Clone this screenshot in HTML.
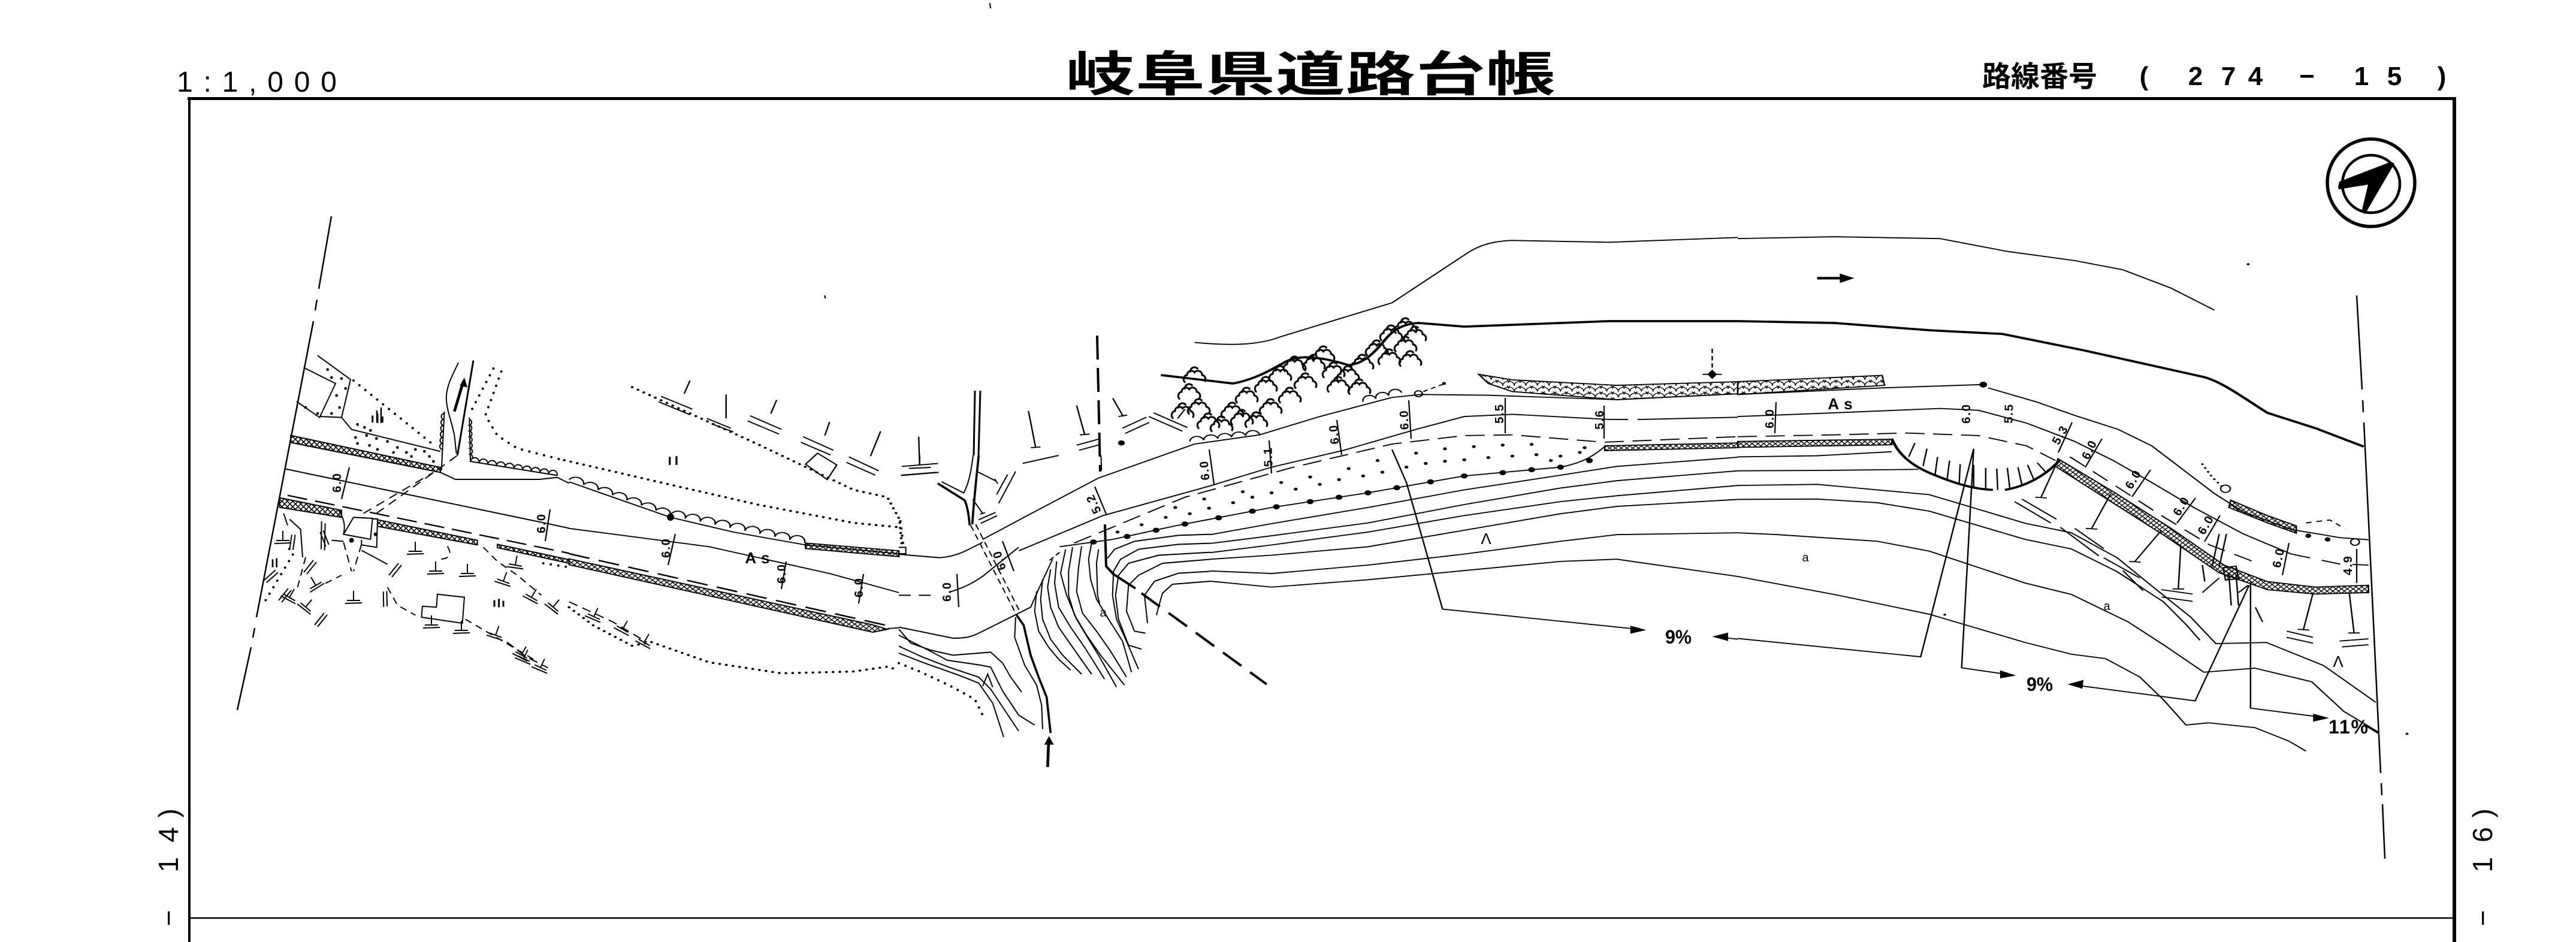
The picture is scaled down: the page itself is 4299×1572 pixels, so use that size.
<!DOCTYPE html>
<html><head><meta charset="utf-8"><style>
html,body{margin:0;padding:0;background:#fff;}
svg{display:block;}
.n{font-family:"Liberation Sans",sans-serif;font-weight:bold;font-size:20px;fill:#000;stroke:none;}
.h{font-family:"Liberation Sans","Noto Sans CJK JP",sans-serif;fill:#000;stroke:none;}
</style></head><body>
<svg xmlns="http://www.w3.org/2000/svg" width="4299" height="1572" viewBox="0 0 4299 1572">
<defs>
<pattern id="xh3" width="12" height="12" patternUnits="userSpaceOnUse"><path d="M0,0 L12,12 M12,0 L0,12" stroke="#000" stroke-width="2" fill="none"/></pattern>
<pattern id="xh8" width="27" height="27" patternUnits="userSpaceOnUse"><path d="M0,0 L27,27 M27,0 L0,27" stroke="#000" stroke-width="5" fill="none"/></pattern>
<pattern id="sc3" width="24" height="16" patternUnits="userSpaceOnUse"><path d="M0,16 A12,12 0 0 1 24,16 M-12,8 A12,12 0 0 1 12,8 M12,8 A12,12 0 0 1 36,8" stroke="#000" stroke-width="2" fill="none"/></pattern>
<g id="tt"><path d="M0,-16 L0,0 M-11,0 L11,0 M-14,5 L14,4"/></g>
<g id="dd"><path d="M-8,10 L8,-10 M-3,13 L13,-7"/></g>
<g id="bush"><path d="M-12,6 a5,5 0 0 1 2,-9 a5,5 0 0 1 9,-3 a5,5 0 0 1 9,3 a5,5 0 0 1 3,8 M-6,-6 a5,5 0 0 1 9,-4"/></g>
</defs>
<rect width="4299" height="1572" fill="#fff"/>

<!-- HEADER -->
<text class="h" x="295" y="153" font-size="48" textLength="267" lengthAdjust="spacing">1:1,000</text>
<text class="h" transform="translate(1778,152) scale(1.45,1)" font-size="80" font-weight="bold" textLength="564" lengthAdjust="spacing">岐阜県道路台帳</text>
<text class="h" x="3308" y="144" font-size="48" font-weight="bold" textLength="192" lengthAdjust="spacing">路線番号</text>
<g class="h" font-size="44" font-weight="bold" text-anchor="middle">
<text x="3578" y="142">(</text><text x="3664" y="142">2</text><text x="3719" y="142">7</text><text x="3764" y="142">4</text>
<text x="3850" y="142">−</text><text x="3941" y="142">1</text><text x="3996" y="142">5</text><text x="4075" y="142">)</text>
</g>
<path d="M1652,5 L1653,14" stroke="#000" stroke-width="2"/>

<!-- side labels -->
<g class="h" font-size="46" text-anchor="middle">
<text transform="translate(297,1532) rotate(-90)">−</text>
<text transform="translate(297,1443) rotate(-90)">1</text>
<text transform="translate(297,1393) rotate(-90)">4</text>
<text transform="translate(297,1357) rotate(-90)">)</text>
<text transform="translate(4159,1532) rotate(-90)">−</text>
<text transform="translate(4159,1443) rotate(-90)">1</text>
<text transform="translate(4159,1393) rotate(-90)">6</text>
<text transform="translate(4159,1357) rotate(-90)">)</text>
</g>

<!-- FRAME -->
<g stroke="#000" fill="none">
<path d="M313,164.5 L4099,164.5" stroke-width="5"/>
<path d="M316,162 L316,1572" stroke-width="4"/>
<path d="M4096,162 L4096,1572" stroke-width="6"/>
<path d="M316,1532 L4096,1532" stroke-width="2.5"/>
</g>

<!-- COMPASS -->
<g stroke="#000" fill="none">
<circle cx="3957" cy="305" r="73" stroke-width="5.5"/>
<circle cx="3957" cy="307" r="48" stroke-width="4.5"/>
</g>
<polygon points="3902,312 3904,303 3990,270 3996,273 3947,357 3941,354 3952,308 3903,316" fill="#000"/>

<!-- boundary dash-dot lines -->
<g stroke="#000" stroke-width="2.5" fill="none">
<path d="M553,361 L532,482 M529,500 L526,518 M523,536 L428,1030 M425,1048 L422,1064 M419,1080 L396,1185"/>
<path d="M3933,493 L3942,650 M3943,668 L3944,688 M3945,705 L3973,1290 M3974,1307 L3975,1327 M3976,1342 L3980,1433"/>
</g>

<!-- ========== Z8 group (left detail) ========== -->
<g transform="translate(430,580) scale(0.33333)" fill="none" stroke="#000" stroke-width="6">
<path d="M300,40 L465,160 L420,350 L470,410 L915,520"/>
<path d="M230,100 L390,180 L310,350 L195,270"/>
<path d="M310,345 L420,350"/>
<g fill="#000" stroke="none">
<circle cx="350" cy="110" r="7"/><circle cx="395" cy="240" r="7"/><circle cx="370" cy="150" r="7"/><circle cx="420" cy="155" r="7"/><circle cx="440" cy="205" r="7"/><circle cx="410" cy="300" r="7"/><circle cx="370" cy="330" r="7"/><circle cx="500" cy="385" r="7"/><circle cx="535" cy="400" r="7"/><circle cx="565" cy="415" r="7"/><circle cx="490" cy="450" r="7"/><circle cx="545" cy="440" r="7"/><circle cx="595" cy="455" r="7"/><circle cx="500" cy="480" r="7"/><circle cx="650" cy="470" r="7"/><circle cx="700" cy="500" r="7"/><circle cx="560" cy="490" r="7"/><circle cx="745" cy="525" r="7"/><circle cx="790" cy="510" r="7"/><circle cx="835" cy="520" r="7"/><circle cx="860" cy="545" r="7"/><circle cx="880" cy="570" r="7"/><circle cx="770" cy="545" r="7"/><circle cx="680" cy="525" r="7"/><circle cx="600" cy="510" r="7"/><circle cx="300" cy="330" r="7"/><circle cx="240" cy="300" r="7"/>
</g>
<path d="M480,165 L890,495" stroke-width="12" stroke-dasharray="0,38" stroke-linecap="round"/>
<path d="M575,340 L575,375 M600,330 L600,378 M625,345 L625,375" stroke-width="9"/>
<path d="M1005,75 C980,130 950,180 945,240 C940,300 975,380 985,440 L995,530"/>
<path d="M1080,65 L1000,540" stroke-width="9"/>
<path d="M935,320 L920,615"/>
<path d="M935,330 a15,15 0 0 0 -1.5,30 a15,15 0 0 0 -1.5,30 a15,15 0 0 0 -1.5,30 a15,15 0 0 0 -1.5,30 a15,15 0 0 0 -1.5,30 a15,15 0 0 0 -1.5,30"/>
<path d="M1060,350 L1065,570 L1500,640"/>
<path d="M1060,360 a15,15 0 0 1 0.7,29 a15,15 0 0 1 0.7,29 a15,15 0 0 1 0.7,29 a15,15 0 0 1 0.7,29 a15,15 0 0 1 0.7,29 a15,15 0 0 1 0.7,29 a15,15 0 0 1 0.7,29"/>
<path d="M1065,570 a22,22 0 0 1 43.5,7 a22,22 0 0 1 43.5,7 a22,22 0 0 1 43.5,7 a22,22 0 0 1 43.5,7 a22,22 0 0 1 43.5,7 a22,22 0 0 1 43.5,7 a22,22 0 0 1 43.5,7 a22,22 0 0 1 43.5,7 a22,22 0 0 1 43.5,7 a22,22 0 0 1 43.5,7"/>
<path d="M985,320 L1028,175" stroke-width="14"/>
<polygon points="1035,150 1050,200 1012,190" fill="#000" stroke="none"/>
<path d="M1180,105 L1070,315 M1220,120 L1140,340 L1200,440 L1300,505 L1535,565" stroke-width="12" stroke-dasharray="0,38" stroke-linecap="round"/>
<polygon points="165,440 915,600 915,625 165,475" fill="url(#xh8)"/>
<path d="M165,475 L915,625 L990,660 L1410,660 L1500,650 L1560,680"/>
<path d="M140,608 L1445,880 L1560,905"/>
<path d="M150,740 L1560,1030" stroke-width="7" stroke-dasharray="100,40"/>
<polygon points="110,752 420,815 420,850 110,800" fill="url(#xh8)"/>
<polygon points="600,862 1100,965 1100,988 600,895" fill="url(#xh8)"/>
<polygon points="1200,985 1560,1062 1560,1080 1200,1002" fill="url(#xh8)"/>
<path d="M405,815 Q445,870 430,935"/>
<path d="M430,935 L480,850 L575,855 L565,960 Z"/>
<path d="M578,858 L600,858 L596,1000 L520,988 L520,962"/>
<circle cx="470" cy="965" r="12" fill="#000" stroke="none"/>
<circle cx="590" cy="935" r="9" fill="#000" stroke="none"/>
<path d="M530,830 L880,625 M595,830 L1000,540" stroke-dasharray="45,30"/>
<path d="M430,975 L470,1120 M520,985 L480,1120" stroke-dasharray="40,25"/>
<path d="M370,965 L430,970 M520,1015 L650,1085"/>
<path d="M650,1200 L700,1290 L790,1340 M1040,1360 L1380,1560 M240,1050 L200,1200 M950,995 Q990,1060 900,1060 M340,1180 L420,1140 M1130,1000 L1200,1070 L1300,1140 L1420,1240" stroke-dasharray="35,25"/>
<path d="M40,1265 L180,1030 L140,990 M1430,1080 L1560,1100" stroke-width="12" stroke-dasharray="0,38" stroke-linecap="round"/>
<path d="M820,1350 L825,1295 L895,1300 L900,1235 L1035,1250 L1025,1380 Z"/>
<path d="M1185,1265 L1185,1298 M1208,1258 L1208,1300 M1230,1268 L1230,1298" stroke-width="9"/>
<path d="M75,1060 L75,1100 M95,1055 L95,1100" stroke-width="8"/>
<path d="M160,860 L215,910 L225,1050 M130,830 L150,890 M320,870 L318,1010 M338,880 L335,1015"/>
</g>

<!-- ========== Z3 group ========== -->
<g transform="translate(380,340) scale(0.8036,0.6122)" fill="none" stroke="#000" stroke-width="3">
<path d="M960,482 L948,518 M900,525 L965,560 M895,540 L960,575"/>
<path d="M1035,520 L1035,585 M995,585 L1045,612 M1005,600 L1050,622"/>
<path d="M1140,535 L1128,572 M1085,578 L1150,615 M1080,592 L1145,628"/>
<path d="M1250,595 L1240,632 M1195,635 L1258,672 M1190,650 L1252,685"/>
<path d="M1356,620 L1335,688 M1290,690 L1352,728 M1285,705 L1345,740"/>
<path d="M1435,635 L1437,712 M1400,716 L1475,708 M1398,740 L1472,732"/>
<path d="M1200,710 L1225,680 L1265,712 L1245,752 Z"/>
<path d="M918,690 L918,712 M932,688 L932,712" stroke-width="4"/>
<path d="M840,500 L1100,655 L1300,780 L1370,800 L1395,860 L1400,930" stroke-width="6" stroke-dasharray="0,14" stroke-linecap="round"/>
<path d="M699,699 L900,760 L1100,820 L1300,870 L1395,882" stroke-width="6" stroke-dasharray="0,14" stroke-linecap="round"/>
<path d="M709,758 L800,800 L920,855 L1050,895 L1200,930 L1394,954"/>
<path d="M709,752 a17,17 0 0 1 30,14 a17,17 0 0 1 30,14 a17,17 0 0 1 30,14 a17,17 0 0 1 30,14 a17,17 0 0 1 30,14 a17,17 0 0 1 30,14 a17,17 0 0 1 30,14 a16,16 0 0 1 31,8.3 a16,16 0 0 1 31,8.3 a16,16 0 0 1 31,8.3 a16,16 0 0 1 31,8.3 a16,16 0 0 1 31,8.3 a16,16 0 0 1 31,8.3 a16,16 0 0 1 31,8.3 a16,16 0 0 1 31,8.3 a16,16 0 0 1 31,8.3"/>
<polygon points="1200,925 1394,946 1394,962 1200,940" fill="url(#xh3)"/>
<path d="M709,885 L1000,935 L1250,1008 L1394,1060"/>
<path d="M709,954 L1370,1150" stroke-width="4" stroke-dasharray="44,20"/>
<polygon points="709,968 1340,1148 1370,1160 1340,1168 709,984" fill="url(#xh3)"/>
<path d="M1370,1158 L1394,1156"/>
<path d="M709,1100 L760,1150 L840,1205 L880,1195 L1000,1250 L1150,1280 L1300,1275 L1370,1262 L1394,1272" stroke-width="6" stroke-dasharray="0,14" stroke-linecap="round"/>
<path d="M709,1085 L800,1140 L870,1195 M580,1195 L620,1235 L665,1265" stroke-dasharray="20,12"/>
<path d="M1240,250 L1241,258"/>
</g>
<path d="M1627,652 L1625,760 M1636,652 L1633,760" stroke="#000" stroke-width="3" fill="none"/>

<!-- ========== Z9 group (junction) ========== -->
<g transform="translate(1500,760) scale(0.33333)" fill="none" stroke="#000" stroke-width="6">
<path d="M105,0 L105,30 M50,65 L160,60 M15,100 L200,85"/>
<path d="M195,140 L330,225 C345,260 350,300 355,350" stroke-width="11"/>
<path d="M215,132 L325,188 C345,150 360,100 372,0"/>
<path d="M400,0 C390,100 375,230 368,345" stroke-width="11"/>
<path d="M390,80 L490,130 M480,118 L496,142 M370,220 L420,290 M408,293 L432,287 M400,322 L485,285 M410,340 L492,302 M490,195 L545,95 M500,240 L585,80 M620,40 L800,0 M1012,0 L1015,75"/>
<path d="M8,330 L22,445" stroke-width="12" stroke-dasharray="0,36" stroke-linecap="round"/>
<path d="M0,460 L35,460 L35,492 L0,492"/>
<path d="M0,495 L200,512 C250,510 290,498 330,480 L420,435"/>
<path d="M0,700 L200,700" stroke-dasharray="60,40"/>
<path d="M250,685 C320,665 370,640 420,605 L600,460"/>
<path d="M360,350 L590,800 M385,345 L610,790" stroke-dasharray="30,20"/>
<path d="M0,860 L100,880 L270,915 C330,915 360,910 400,890 L660,760 L700,670 L760,540 L770,520"/>
<path d="M755,525 L805,485" stroke-dasharray="25,15"/>
<path d="M590,800 L625,850 L660,1000 L700,1110 L740,1210 L760,1390" stroke-width="11"/>
<path d="M585,810 L580,910 L630,1050 L690,1150 L715,1250 L720,1370"/>
<path d="M745,1560 L750,1440" stroke-width="14"/>
<polygon points="752,1405 728,1448 776,1448" fill="#000" stroke="none"/>
<path d="M0,870 L60,940 L160,975 L270,1000 L460,985 L520,1040 L560,1110 L615,1185"/>
<path d="M0,900 C100,950 200,1000 240,1025 L410,1050 L460,1060 L520,1180 L600,1300 L680,1350"/>
<path d="M0,955 L120,1010 L250,1060 L400,1110 L460,1170 L540,1290 L600,1380"/>
<path d="M0,990 L130,1040 L300,1100 L400,1140 L470,1240 L525,1410"/>
<path d="M0,1040 L100,1080 L250,1150 L380,1220 L420,1300" stroke-width="12" stroke-dasharray="0,36" stroke-linecap="round"/>
<path d="M420,1155 L445,1095 L470,1160"/>
<path d="M690,680 L680,780 L700,880 L750,960 L800,1020 L860,1075"/>
<path d="M720,620 L710,720 L720,820 L760,920 L820,1000 L915,1095"/>
<path d="M760,570 L745,660 L760,760 L800,860 L870,960 L965,1095"/>
<path d="M790,530 L780,640 L800,760 L860,860 L930,960 L1030,1120"/>
<path d="M835,470 L810,590 L840,700 L890,820 L950,920 L1000,1000 L1090,1160"/>
<path d="M870,460 L850,580 L850,700 L880,800 L940,900 L1010,1000 L1130,1150"/>
<path d="M915,455 L900,560 L890,680 L920,790 L990,880 L1060,980 L1140,1110"/>
<path d="M965,440 L950,520 L960,620 L990,720 L1050,820 L1120,930 L1165,1085"/>
<path d="M1000,470 L990,540 L995,700 L1005,740"/>
<path d="M1560,395 L1400,400 L1180,430 L1080,470 L1045,515"/>
<path d="M1560,440 L1400,445 L1200,470 L1110,520 L1075,580 L1070,700 L1090,820 L1140,930 L1200,1070"/>
<path d="M1560,485 L1300,500 L1150,540 L1100,600 L1085,700 L1100,820 L1150,950 L1215,970"/>
<path d="M1560,520 L1320,540 L1200,600 L1150,650 L1140,780 L1180,880 L1235,890"/>
<path d="M1560,580 L1400,590 L1280,630 L1230,700 L1245,840"/>
<path d="M1560,630 L1370,645 L1320,690 L1300,760 L1290,800"/>
</g>

<!-- heavy dashed line at junction -->
<g stroke="#000" stroke-width="4" fill="none">
<path d="M1831,560 L1836,787" stroke-dasharray="40,14"/>
<path d="M1844,875 L1846,945 L1858,958 L1895,982"/>
<path d="M1905,990 L2114,1142" stroke-dasharray="38,18"/>
</g>

<!-- ========== Z4 group ========== -->
<g transform="translate(1640,340) scale(0.8036,0.6122)" fill="none" stroke="#000" stroke-width="3">
<path d="M440,378 C520,388 575,385 620,362 L700,330 L850,270 L1000,140 C1030,112 1060,102 1100,100 L1300,105 L1568,92"/>
<path d="M370,467 L520,490 C560,480 590,460 630,430 C660,410 705,418 760,440 C790,436 810,410 830,380 C850,345 870,328 905,325 L1000,335 L1300,320 L1568,320" stroke-width="6"/>
<path d="M405,585 L420,560"/>
<path d="M0,915 L100,845 L240,748 L440,655 L575,630 L700,580 L850,528 L910,520 L1050,522 L1317,534 L1568,518"/>
<path d="M430,648 a15,15 0 0 1 29,-4 a15,15 0 0 1 29,-4 a15,15 0 0 1 29,-4 a15,15 0 0 1 29,-4 a15,15 0 0 1 29,-4"/>
<path d="M790,540 a14,14 0 0 1 26.7,-8.3 a14,14 0 0 1 26.7,-8.3 a14,14 0 0 1 26.7,-8.3"/>
<circle cx="905" cy="518" r="8"/>
<path d="M915,512 L960,490" stroke-dasharray="10,8"/>
<circle cx="958" cy="490" r="4" fill="#000" stroke="none"/>
<path d="M75,946 L250,850 L470,770 L600,718 L750,672 L900,615 L1000,580 L1100,574 L1300,588"/>
<path d="M1300,588 L1368,588" stroke-dasharray="40,20"/>
<path d="M1368,588 L1568,582"/>
<path d="M190,925 L420,800 L640,720 L850,655 L1000,632 L1100,630 L1290,650 L1568,635" stroke-dasharray="40,18"/>
<path d="M160,935 L270,915 L400,878 L600,828 L800,788 L1000,742 L1200,718 C1250,705 1270,685 1292,662"/>
<g fill="#000" stroke="none">
<circle cx="230" cy="922" r="7"/><circle cx="300" cy="907" r="7"/><circle cx="360" cy="890" r="7"/><circle cx="420" cy="873" r="7"/><circle cx="490" cy="856" r="7"/><circle cx="560" cy="838" r="7"/><circle cx="610" cy="826" r="7"/><circle cx="680" cy="812" r="7"/><circle cx="740" cy="800" r="7"/><circle cx="800" cy="788" r="7"/><circle cx="860" cy="774" r="7"/><circle cx="930" cy="758" r="7"/><circle cx="1000" cy="742" r="7"/><circle cx="1080" cy="733" r="7"/><circle cx="1140" cy="725" r="7"/><circle cx="1200" cy="718" r="7"/><circle cx="1260" cy="700" r="7"/>
<circle cx="280" cy="895" r="4"/><circle cx="330" cy="875" r="4"/><circle cx="380" cy="855" r="4"/><circle cx="430" cy="845" r="4"/><circle cx="470" cy="830" r="4"/><circle cx="520" cy="815" r="4"/><circle cx="560" cy="800" r="4"/><circle cx="600" cy="788" r="4"/><circle cx="650" cy="778" r="4"/><circle cx="700" cy="765" r="4"/><circle cx="740" cy="752" r="4"/><circle cx="790" cy="742" r="4"/><circle cx="830" cy="732" r="4"/><circle cx="880" cy="718" r="4"/><circle cx="920" cy="708" r="4"/><circle cx="960" cy="702" r="4"/><circle cx="1000" cy="698" r="4"/><circle cx="1050" cy="692" r="4"/><circle cx="1100" cy="688" r="4"/><circle cx="1150" cy="684" r="4"/><circle cx="1200" cy="688" r="4"/><circle cx="1240" cy="678" r="4"/><circle cx="620" cy="760" r="4"/><circle cx="680" cy="745" r="4"/><circle cx="760" cy="722" r="4"/><circle cx="820" cy="700" r="4"/><circle cx="900" cy="680" r="4"/><circle cx="960" cy="668" r="4"/><circle cx="1020" cy="662" r="4"/><circle cx="1080" cy="658" r="4"/><circle cx="1140" cy="656" r="4"/><circle cx="1180" cy="700" r="4"/><circle cx="1250" cy="665" r="4"/><circle cx="460" cy="805" r="4"/><circle cx="400" cy="828" r="4"/><circle cx="540" cy="785" r="4"/>
</g>
<polygon points="1292,660 1568,652 1568,665 1292,673" fill="url(#xh3)"/>
<path d="M1030,465 L1100,480 L1317,495 L1568,485 L1568,518 L1317,534 L1100,512 L1050,490 Z" fill="url(#sc3)"/>
<path d="M473,902 L600,872 L800,828 L1000,780 L1200,740 L1317,716 L1568,691"/>
<path d="M473,926 L600,905 L800,870 L1000,820 L1200,775 L1317,755 L1568,728"/>
<path d="M473,951 L600,930 L800,895 L1000,850 L1200,812 L1317,796 L1568,768"/>
<path d="M473,969 L600,958 L800,935 L1000,890 L1200,845 L1317,825 L1568,806"/>
<path d="M473,1001 L600,1008 L800,985 L1000,955 L1200,920 L1317,902 L1568,897"/>
<path d="M473,1029 L600,1045 L800,1025 L1000,1000 L1200,975 L1317,969 L1568,1016"/>
<path d="M850,670 L880,760 L955,1105 L1362,1160"/>
<polygon points="1378,1162 1345,1150 1345,1172" fill="#000" stroke="none"/>
<path d="M1535,1182 L1568,1187"/>
<polygon points="1515,1180 1548,1169 1548,1192" fill="#000" stroke="none"/>
<path d="M1515,395 L1515,455" stroke-dasharray="12,8"/>
<path d="M1495,465 L1535,465"/>
<polygon points="1515,452 1525,465 1515,478 1505,465" fill="#000" stroke="none"/>
<path d="M95,565 L110,665 M100,665 L120,663 M195,550 L212,630 M202,630 L222,628 M270,530 L292,580 M282,580 L300,576 M345,580 L415,620 M355,570 L425,610 M290,612 L340,582 M296,626 L346,596 M195,658 L240,642 M200,672 L245,656"/>
<circle cx="288" cy="652" r="7" fill="#000" stroke="none"/>
</g>

<!-- bushes -->
<g stroke="#000" stroke-width="2.2" fill="none">
<use href="#bush" transform="translate(1986,658) scale(1.4)"/><use href="#bush" transform="translate(2002,683) scale(1.4)"/><use href="#bush" transform="translate(2018,707) scale(1.4)"/><use href="#bush" transform="translate(2058,689) scale(1.4)"/><use href="#bush" transform="translate(2082,664) scale(1.4)"/><use href="#bush" transform="translate(2114,646) scale(1.4)"/><use href="#bush" transform="translate(2138,628) scale(1.4)"/><use href="#bush" transform="translate(2162,612) scale(1.4)"/><use href="#bush" transform="translate(2194,609) scale(1.4)"/><use href="#bush" transform="translate(2227,622) scale(1.4)"/><use href="#bush" transform="translate(2251,628) scale(1.4)"/><use href="#bush" transform="translate(2275,609) scale(1.4)"/><use href="#bush" transform="translate(2299,585) scale(1.4)"/><use href="#bush" transform="translate(2323,560) scale(1.4)"/><use href="#bush" transform="translate(2347,548) scale(1.4)"/><use href="#bush" transform="translate(2363,562) scale(1.4)"/><use href="#bush" transform="translate(2347,579) scale(1.4)"/><use href="#bush" transform="translate(2355,603) scale(1.4)"/><use href="#bush" transform="translate(2235,646) scale(1.4)"/><use href="#bush" transform="translate(2154,664) scale(1.4)"/><use href="#bush" transform="translate(2074,701) scale(1.4)"/><use href="#bush" transform="translate(2122,683) scale(1.4)"/><use href="#bush" transform="translate(1995,630) scale(1.4)"/><use href="#bush" transform="translate(2040,712) scale(1.4)"/><use href="#bush" transform="translate(2098,705) scale(1.4)"/><use href="#bush" transform="translate(2180,640) scale(1.4)"/><use href="#bush" transform="translate(2210,595) scale(1.4)"/><use href="#bush" transform="translate(2270,650) scale(1.4)"/><use href="#bush" transform="translate(2320,600) scale(1.4)"/><use href="#bush" transform="translate(1975,690) scale(1.4)"/>
</g>

<!-- ========== Z5 group ========== -->
<g transform="translate(2900,340) scale(0.8036,0.6122)" fill="none" stroke="#000" stroke-width="3">
<path d="M0,95 L200,90 L420,95 L560,130 L700,155 L800,180 L900,230 L990,290"/>
<path d="M165,203 L215,203" stroke-width="7"/>
<polygon points="242,203 212,190 212,216" fill="#000" stroke="none"/>
<path d="M0,320 L200,325 L400,345 L550,355 L720,400 L960,470 C1000,480 1040,520 1100,570 L1200,612 L1300,662" stroke-width="6"/>
<path d="M0,485 L300,468 L305,495 L0,520 Z" fill="url(#sc3)"/>
<path d="M0,520 L300,502 L505,493"/>
<circle cx="510" cy="493" r="8" fill="#000" stroke="none"/>
<path d="M520,502 L620,540 L700,577 L790,615 L860,660 L900,700 L940,740 L990,790 L1050,840 L1150,888 L1250,910 L1310,916"/>
<path d="M0,580 L200,570 L420,558 L500,563 L600,598 L700,648 L780,700 L860,760 L950,830 L1050,900 L1150,955"/>
<path d="M1150,955 L1250,982 L1310,985" stroke-dasharray="40,25"/>
<path d="M0,635 L200,630 L350,625 L500,632 L600,660 L660,700" stroke-dasharray="40,18"/>
<path d="M690,690 L780,765 L880,850 L980,930 L1080,980" stroke-dasharray="40,22"/>
<polygon points="0,648 320,642 320,657 0,664" fill="url(#xh3)"/>
<polygon points="665,695 780,785 900,885 1010,985 1100,1030 1200,1045 1310,1040 1310,1060 1200,1064 1100,1052 1000,1006 888,906 768,806 660,716" fill="url(#xh3)"/>
<polygon points="1024,808 1100,850 1160,878 1160,898 1100,870 1020,828" fill="url(#xh3)"/>
<path d="M320,640 C335,690 370,720 410,740 C450,762 490,778 530,780 M555,780 C600,770 640,740 668,700" stroke-width="6"/>
<path d="M355,690 L368,652 M385,715 L393,668 M410,738 L415,690 M435,750 L440,700 M460,762 L462,710 M490,772 L490,712 M515,778 L515,720 M540,780 L538,722 M565,775 L560,720 M590,765 L582,718 M615,752 L602,712 M640,732 L622,706"/>
<path d="M0,1185 L380,1235 L490,668 L465,1265 L560,1283"/>
<polygon points="578,1286 545,1272 545,1294" fill="#000" stroke="none"/>
<path d="M700,1312 L950,1355 L1062,1040"/>
<polygon points="685,1310 718,1298 716,1322" fill="#000" stroke="none"/>
<path d="M1065,1030 L1065,1375 L1215,1400"/>
<polygon points="1228,1402 1195,1390 1195,1412" fill="#000" stroke="none"/>
<path d="M1300,1420 L1332,1445"/>
<path d="M0,690 L165,687 L320,676"/>
<path d="M0,728 L165,727 L375,724"/>
<path d="M0,768 L165,765 L398,793 L597,871 L693,897 L788,965 L859,1041 L941,1127 L993,1199 L1098,1196 L1217,1259 L1325,1359"/>
<path d="M0,806 L165,805 L290,815 L398,838 L597,915 L693,941 L788,1003 L884,1085 L931,1147 L960,1190"/>
<path d="M0,897 L83,902 L290,920 L398,947 L597,1034 L693,1065 L811,1140 L884,1202 L968,1277 L1074,1266 L1192,1303 L1259,1384 L1330,1440"/>
<path d="M0,1016 L208,1067 L398,1119 L597,1196 L693,1228 L764,1240 L835,1290 L884,1352 L931,1421 L978,1415 L1074,1428 L1145,1465 L1180,1492"/>
<path d="M665,700 L630,800 M618,800 L642,802 M775,790 L735,885 M723,885 L747,887 M880,890 L825,975 M813,975 L837,977 M920,935 L915,1050 M903,1050 L927,1050 M965,985 L970,1030 M1195,1060 L1175,1160 M1163,1160 L1187,1162 M1270,1060 L1280,1170 M1268,1170 L1292,1170"/>
<path d="M575,812 L650,870 M590,805 L662,860 M670,882 L750,960 M700,885 L760,940 M760,965 L835,1020 M800,1000 L842,1055 M880,1052 L945,1064 M880,1072 L945,1084 M965,1060 L1000,1020 M1140,1165 L1195,1182 M1140,1182 L1195,1198 M1250,1192 L1310,1186 M1255,1208 L1310,1202 M1020,1010 L1025,1095 M1035,1010 L1040,1095 M1075,1100 L1090,1140 M1040,1060 L1060,1040 M1000,900 L985,990 M1015,900 L1000,990"/>
<polygon points="1008,992 1035,988 1040,1022 1013,1026" fill="url(#xh3)"/>
<path d="M965,710 L985,745 L1005,770" stroke-width="5" stroke-dasharray="0,12" stroke-linecap="round"/>
<circle cx="1013" cy="777" r="10"/>
<path d="M1180,870 L1230,862 L1260,885" stroke-dasharray="12,10"/>
<circle cx="1185" cy="905" r="6" fill="#000" stroke="none"/>
<circle cx="1225" cy="915" r="6" fill="#000" stroke="none"/>
<circle cx="1282" cy="922" r="9"/>
<circle cx="1060" cy="165" r="3" fill="#000" stroke="none"/>
<circle cx="1390" cy="1445" r="3" fill="#000" stroke="none"/>
<circle cx="430" cy="1120" r="3" fill="#000" stroke="none"/>
</g>

<!-- T symbols & double-slash symbols (orig coords) -->
<g stroke="#000" stroke-width="2" fill="none">
<use href="#tt" transform="translate(472,902)"/><use href="#tt" transform="translate(590,1002)"/><use href="#tt" transform="translate(727,953)"/><use href="#tt" transform="translate(780,957)"/><use href="#tt" transform="translate(693,920)"/><use href="#tt" transform="translate(860,943) rotate(10)"/><use href="#tt" transform="translate(840,970) rotate(20)"/><use href="#tt" transform="translate(887,997) rotate(30)"/><use href="#tt" transform="translate(923,1013) rotate(40)"/><use href="#tt" transform="translate(527,977) rotate(-30)"/><use href="#tt" transform="translate(510,1013) rotate(40)"/><use href="#tt" transform="translate(483,997) rotate(30)"/><use href="#tt" transform="translate(720,1043)"/><use href="#tt" transform="translate(770,1052)"/><use href="#tt" transform="translate(827,1060) rotate(20)"/><use href="#tt" transform="translate(870,1093) rotate(30)"/><use href="#tt" transform="translate(991,1029) rotate(25)"/><use href="#tt" transform="translate(1039,1050) rotate(30)"/><use href="#tt" transform="translate(1075,1072) rotate(30)"/><use href="#tt" transform="translate(874,1099) rotate(25)"/><use href="#tt" transform="translate(902,1114) rotate(25)"/>
<use href="#dd" transform="translate(515,945)"/><use href="#dd" transform="translate(473,992)"/><use href="#dd" transform="translate(533,1033)"/><use href="#dd" transform="translate(657,950)"/><use href="#dd" transform="translate(539,900) rotate(-60)"/><use href="#dd" transform="translate(485,905) rotate(-30)"/><use href="#dd" transform="translate(640,1000) rotate(-40)"/><use href="#dd" transform="translate(450,960) rotate(10)"/>
</g>

<!-- ticks for width labels -->
<g stroke="#000" stroke-width="2.2" fill="none">
<path d="M583,780 L570,833 M918,850 L910,903 M1127,891 L1115,943 M1312,937 L1304,983 M1441,958 L1433,1007 M1597,958 L1600,1013 M1673,903 L1692,953 M1827,812 L1847,860 M2018,750 L2026,808 M2118,735 L2122,790 M2231,701 L2239,759 M2351,668 L2355,732 M2512,664 L2512,723 M2677,677 L2677,732 M2964,671 L2962,723 M3458,705 L3435,755 M3508,732 L3480,780 M3589,784 L3558,829 M3664,831 L3633,873 M3705,860 L3679,904 M3820,906 L3809,960 M3933,916 L3933,973"/>
</g>
<circle cx="1119" cy="863" r="6" fill="#000"/>

<!-- road width labels -->
<g class="n" text-anchor="middle" letter-spacing="2">
<text transform="translate(569,805) rotate(-90)">6.0</text>
<text transform="translate(910,873) rotate(-90)">6.0</text>
<text transform="translate(1118,914) rotate(-90)">6.0</text>
<text transform="translate(1311,957) rotate(-90)">6.0</text>
<text transform="translate(1440,980) rotate(-90)">6.0</text>
<text transform="translate(1587,987) rotate(-90)">6.0</text>
<text transform="translate(1674,933) rotate(-107)">6.0</text>
<text transform="translate(1831,838) rotate(-115)">5.2</text>
<text transform="translate(2017,784) rotate(-95)">6.0</text>
<text transform="translate(2123,762) rotate(-92)">5.1</text>
<text transform="translate(2233,724) rotate(-95)">6.0</text>
<text transform="translate(2350,700) rotate(-92)">6.0</text>
<text transform="translate(2509,690) rotate(-90)">5.5</text>
<text transform="translate(2676,700) rotate(-90)">5.6</text>
<text transform="translate(2960,698) rotate(-90)">6.0</text>
<text transform="translate(3288,690) rotate(-90)">6.0</text>
<text transform="translate(3359,690) rotate(-88)">5.5</text>
<text transform="translate(3444,729) rotate(-60)">5.3</text>
<text transform="translate(3493,753) rotate(-64)">6.0</text>
<text transform="translate(3566,803) rotate(-60)">6.0</text>
<text transform="translate(3646,848) rotate(-58)">6.0</text>
<text transform="translate(3687,879) rotate(-60)">6.0</text>
<text transform="translate(3809,932) rotate(-78)">6.0</text>
<text transform="translate(3925,943) rotate(-90)">4.9</text>
</g>

<!-- other labels -->
<g class="h" font-weight="bold">
<text x="1268" y="940" font-size="26" text-anchor="middle" letter-spacing="8">As</text>
<text x="3075" y="683" font-size="26" text-anchor="middle" letter-spacing="8">As</text>
<text x="2779" y="1074" font-size="32" textLength="44" lengthAdjust="spacingAndGlyphs">9%</text>
<text x="3382" y="1153" font-size="32" textLength="44" lengthAdjust="spacingAndGlyphs">9%</text>
<text x="3886" y="1224" font-size="32" textLength="66" lengthAdjust="spacing">11%</text>
</g>
<g class="h" font-size="20" text-anchor="middle">
<text x="1841" y="1029">a</text>
<text x="3013" y="937">a</text>
<text x="3516" y="1018">a</text>
<text x="2480" y="908" font-size="26">Λ</text>
<text x="3902" y="1113" font-size="26">Λ</text>
</g>
<g stroke="#000" stroke-width="2.5" fill="none">
<path d="M629,685 L629,705 M636,680 L636,706"/>
</g>
</svg>
</body></html>
